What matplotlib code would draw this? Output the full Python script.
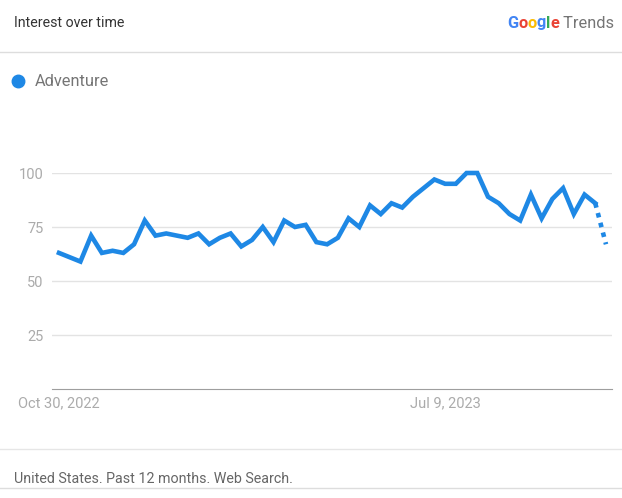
import numpy as np
import pandas as pd
import matplotlib
matplotlib.use('Agg')
import matplotlib.pyplot as plt

plt.rcParams['font.family'] = ['Roboto', 'DejaVu Sans']

# weekly interest, starting Oct 30, 2022 (last week is partial -> dotted)
start = '2022-10-30'
interest = [63, 61, 59, 71, 63, 64, 63, 67, 78, 71,
            72, 71, 70, 72, 67, 70, 72, 66, 69, 75,
            68, 78, 75, 76, 68, 67, 70, 79, 75, 85,
            81, 86, 84, 89, 93, 97, 95, 95, 100, 100,
            89, 86, 81, 78, 90, 79, 88, 93, 81, 90,
            86, 67]
weeks = pd.date_range(start, periods=len(interest), freq='7D')
term = 'Adventure'
yticks = [25, 50, 75, 100]
xtick_idx = [0, 36]

W, H = 622, 498
fig = plt.figure(figsize=(W / 100, H / 100), dpi=100)

BLUE = '#1e88e5'
GRID = '#e3e3e3'

def fx(px):
    return px / W

def fy(py):
    return 1 - py / H

# plot area
ax = fig.add_axes([fx(52), fy(389), fx(612 - 52), (389 - 173) / H])
x = np.arange(len(interest))
ax.plot(x[:-1], interest[:-1], color=BLUE, lw=3.3, solid_joinstyle='miter',
        clip_on=False, zorder=3)
ax.plot(x[-2:], interest[-2:], color=BLUE, lw=3.3, ls=(0, (1, 1.2)),
        clip_on=False, zorder=3)
ax.set_xlim(-0.65, 51.56)
ax.set_ylim(0, 100)
ax.set_yticks(yticks)
ax.set_yticklabels([str(v) for v in yticks])
ax.set_xticks(xtick_idx)
ax.set_xticklabels([weeks[i].strftime('%b %-d, %Y') for i in xtick_idx])
ax.grid(axis='y', color=GRID, lw=1)
ax.set_axisbelow(True)
for s in ['top', 'right', 'left']:
    ax.spines[s].set_visible(False)
ax.spines['bottom'].set_color('#9e9e9e')
ax.tick_params(axis='both', length=0, labelsize=10.5, labelcolor='#ababab')
ax.tick_params(axis='y', pad=6)
ax.tick_params(axis='x', pad=5)

# header
fig.text(fx(14), fy(23), 'Interest over time', fontsize=10.2, color='#333333',
         va='center', ha='left')
fig.add_artist(plt.Line2D([0, 1], [fy(52), fy(52)], color='#dddddd', lw=1))

# Google Trends logo
letters = [('G', '#4285F4'), ('o', '#EA4335'), ('o', '#FBBC05'),
           ('g', '#4285F4'), ('l', '#34A853'), ('e', '#EA4335'),
           (' Trends', '#757575')]
fig.canvas.draw()
r = fig.canvas.get_renderer()
cx = 507
for ch, c in letters:
    t = fig.text(fx(cx), fy(23), ch, fontsize=11.8, color=c, va='center', ha='left',
                 fontweight='bold' if c != '#757575' else 'normal')
    bb = t.get_window_extent(renderer=r)
    cx += bb.width

# legend
fig.add_artist(plt.Line2D([fx(18)], [fy(81)], marker='o', markersize=9,
                          color=BLUE, lw=0))
fig.text(fx(35), fy(81), term, fontsize=11.8, color='#757575', va='center', ha='left')

# footer
fig.add_artist(plt.Line2D([0, 1], [fy(449), fy(449)], color='#e6e6e6', lw=1))
fig.add_artist(plt.Line2D([0, 1], [fy(488), fy(488)], color='#dddddd', lw=1))
fig.text(fx(14), fy(479), 'United States. Past 12 months. Web Search.', fontsize=10.3,
         color='#666666', va='center', ha='left')

fig.savefig('out.png', dpi=100)
